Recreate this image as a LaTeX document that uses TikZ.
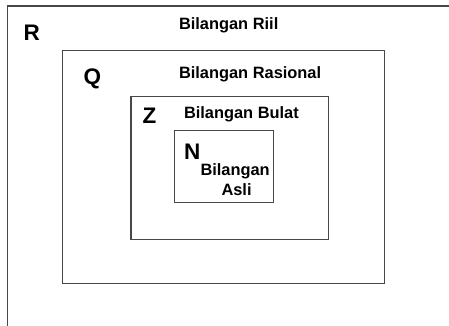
\documentclass[tikz,border=0pt]{standalone}
\usepackage{fontspec}
\setmainfont{Liberation Sans}
\begin{document}
\begin{tikzpicture}[x=1pt,y=-1pt,
  setbox/.style={draw=black!72, line width=1.1pt},
  setletter/.style={font=\fontsize{22.5}{22.5}\selectfont\bfseries, anchor=base west, inner sep=0pt},
  setname/.style={font=\fontsize{16.4}{16.4}\selectfont\bfseries, anchor=base west, inner sep=0pt}]
  \useasboundingbox (0,0) rectangle (449,326);
  \clip (0,0) rectangle (449,326);
  % nested sets R > Q > Z > N
  \draw[setbox] (7.3,6) rectangle (470,350);
  \draw[setbox] (62.7,50.7) rectangle (384.3,283.7);
  \draw[setbox] (131,96.7) rectangle (328.7,239.3);
  \draw[setbox] (174.3,130.7) rectangle (273.3,202.3);
  % set symbols
  \node[setletter] (lR) at (23.3,40.7) {R};
  \node[setletter] (lQ) at (83.3,84.5) {Q};
  \node[setletter] (lZ) at (142.3,123.3) {Z};
  \node[setletter] (lN) at (183.8,159.3) {N};
  % set names
  \node[setname] (nR) at (178.8,29.8) {Bilangan Riil};
  \node[setname] (nQ) at (178.8,78.6) {Bilangan Rasional};
  \node[setname] (nZ) at (183.8,118) {Bilangan Bulat};
  \node[setname] (nN1) at (200.3,175.7) {Bilangan};
  \node[setname] (nN2) at (221.3,195) {Asli};
\end{tikzpicture}
\end{document}
